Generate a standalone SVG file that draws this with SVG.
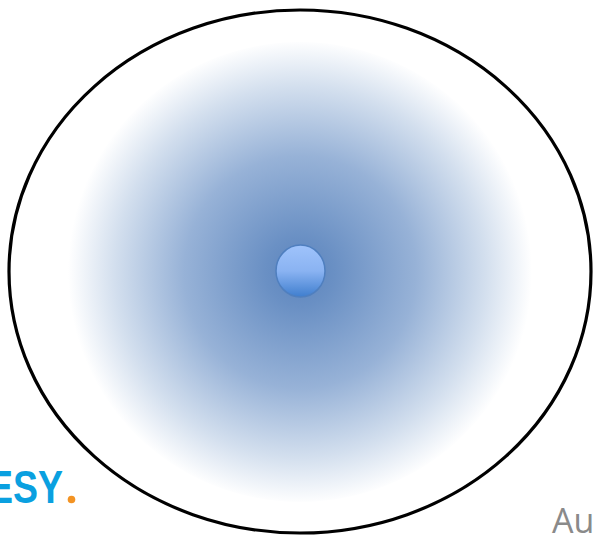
<svg xmlns="http://www.w3.org/2000/svg" width="594" height="536" viewBox="0 0 594 536">
<defs>
<radialGradient id="cloud" cx="300" cy="272" r="232" gradientUnits="userSpaceOnUse">
<stop offset="0" stop-color="#5c84bd"/>
<stop offset="0.15" stop-color="#6a90c4"/>
<stop offset="0.5" stop-color="#97b2d7"/>
<stop offset="0.8" stop-color="#d3dfee"/>
<stop offset="1" stop-color="#ffffff"/>
</radialGradient>
<linearGradient id="core" x1="0" y1="0" x2="0" y2="1">
<stop offset="0" stop-color="#9fc3fb"/>
<stop offset="0.5" stop-color="#8ab3f2"/>
<stop offset="1" stop-color="#3f7ece"/>
</linearGradient>
<style>
.outer{fill:#ffffff;stroke:#000000;stroke-width:3.2}
.logo{font-family:"Liberation Sans",Arial,sans-serif;font-weight:bold;font-size:46px;fill:#0aa0e0}
.au{font-family:"Open Sans","DejaVu Sans",sans-serif;font-size:34px;fill:#8a8a8a}
</style>
</defs>
<rect width="594" height="536" fill="#ffffff"/>
<g id="atom">
<ellipse class="outer" cx="300" cy="271.5" rx="291" ry="261.5"/>
<ellipse cx="300" cy="272" rx="232" ry="230" fill="url(#cloud)"/>
</g>
<g id="nucleus">
<ellipse cx="300.5" cy="271" rx="24.5" ry="26" fill="url(#core)" stroke="#4f7fbf" stroke-width="1.5"/>
</g>
<g id="logo">
<text class="logo" x="-12" y="503" textLength="75" lengthAdjust="spacingAndGlyphs">ESY</text>
<circle cx="71.5" cy="499.5" r="3.8" fill="#f39323"/>
</g>
<g id="footer">
<text class="au" x="552" y="533">Au</text>
</g>
</svg>
